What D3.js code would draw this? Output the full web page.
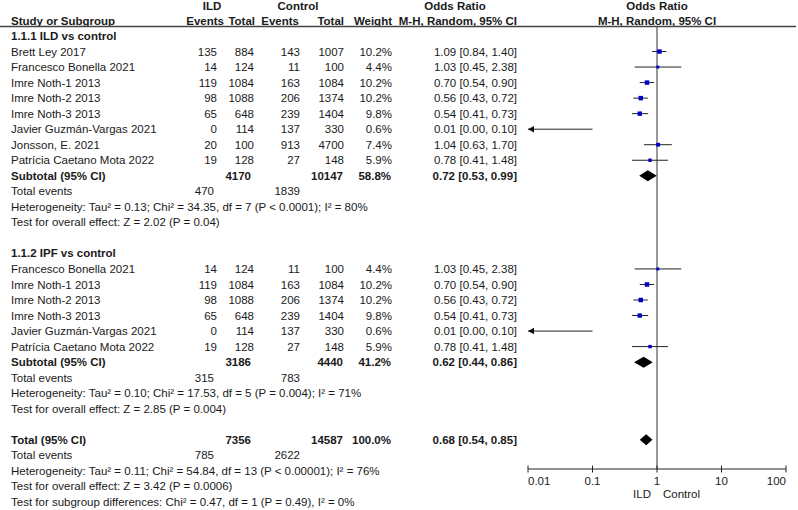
<!DOCTYPE html>
<html>
<head>
<meta charset="utf-8">
<script src="https://cdn.jsdelivr.net/npm/d3@7"></script>
<style>
  html, body { margin: 0; padding: 0; background: #fff; }
  svg text { font-family: 'Liberation Sans', Arial, sans-serif; font-size: 11.5px; fill: #1a1a1a; }
</style>
</head>
<body>
<svg id="chart" width="798" height="510"></svg>
<script>
// ---------------- DATA ----------------
const group1Title = "1.1.1 ILD vs control";
const group1Studies = ["Brett Ley 2017", "Francesco Bonella 2021", "Imre Noth-1 2013", "Imre Noth-2 2013", "Imre Noth-3 2013", "Javier Guzmán-Vargas 2021", "Jonsson, E. 2021", "Patrícia Caetano Mota 2022"];
const group1EventsILD = [135, 14, 119, 98, 65, 0, 20, 19];
const group1TotalILD = [884, 124, 1084, 1088, 648, 114, 100, 128];
const group1EventsCtrl = [143, 11, 163, 206, 239, 137, 913, 27];
const group1TotalCtrl = [1007, 100, 1084, 1374, 1404, 330, 4700, 148];
const group1Weight = [10.2, 4.4, 10.2, 10.2, 9.8, 0.6, 7.4, 5.9];
const group1OR = [1.09, 1.03, 0.70, 0.56, 0.54, 0.01, 1.04, 0.78];
const group1Lo = [0.84, 0.45, 0.54, 0.43, 0.41, 0.00, 0.63, 0.41];
const group1Hi = [1.40, 2.38, 0.90, 0.72, 0.73, 0.10, 1.70, 1.48];
const group1Subtotal = { totalILD: 4170, totalCtrl: 10147, weight: 58.8, or: 0.72, lo: 0.53, hi: 0.99, eventsILD: 470, eventsCtrl: 1839 };
const group1Het = "Heterogeneity: Tau² = 0.13; Chi² = 34.35, df = 7 (P < 0.0001); I² = 80%";
const group1Test = "Test for overall effect: Z = 2.02 (P = 0.04)";

const group2Title = "1.1.2 IPF vs control";
const group2Studies = ["Francesco Bonella 2021", "Imre Noth-1 2013", "Imre Noth-2 2013", "Imre Noth-3 2013", "Javier Guzmán-Vargas 2021", "Patrícia Caetano Mota 2022"];
const group2EventsILD = [14, 119, 98, 65, 0, 19];
const group2TotalILD = [124, 1084, 1088, 648, 114, 128];
const group2EventsCtrl = [11, 163, 206, 239, 137, 27];
const group2TotalCtrl = [100, 1084, 1374, 1404, 330, 148];
const group2Weight = [4.4, 10.2, 10.2, 9.8, 0.6, 5.9];
const group2OR = [1.03, 0.70, 0.56, 0.54, 0.01, 0.78];
const group2Lo = [0.45, 0.54, 0.43, 0.41, 0.00, 0.41];
const group2Hi = [2.38, 0.90, 0.72, 0.73, 0.10, 1.48];
const group2Subtotal = { totalILD: 3186, totalCtrl: 4440, weight: 41.2, or: 0.62, lo: 0.44, hi: 0.86, eventsILD: 315, eventsCtrl: 783 };
const group2Het = "Heterogeneity: Tau² = 0.10; Chi² = 17.53, df = 5 (P = 0.004); I² = 71%";
const group2Test = "Test for overall effect: Z = 2.85 (P = 0.004)";

const overall = { totalILD: 7356, totalCtrl: 14587, weight: 100.0, or: 0.68, lo: 0.54, hi: 0.85, eventsILD: 785, eventsCtrl: 2622 };
const overallHet = "Heterogeneity: Tau² = 0.11; Chi² = 54.84, df = 13 (P < 0.00001); I² = 76%";
const overallTest = "Test for overall effect: Z = 3.42 (P = 0.0006)";
const subgroupTest = "Test for subgroup differences: Chi² = 0.47, df = 1 (P = 0.49), I² = 0%";

const axisTicks = [0.01, 0.1, 1, 10, 100];
const axisTickLabels = ["0.01", "0.1", "1", "10", "100"];
const favoursLeft = "ILD";
const favoursRight = "Control";

// ---------------- LAYOUT ----------------
const svg = d3.select("#chart");
const rowH = 15.53;
const y0 = 36;
const rowY = i => y0 + i * rowH;

const x = d3.scaleLog().domain([0.01, 100]).range([528, 786]);
const axisY = 469;

const col = { name: 11, evI: 217, totI: 254, evC: 300, totC: 344, w: 392, or: 517 };
const f2 = d3.format(".2f");
const f1 = d3.format(".1f");
const blue = "#0000c8";

function text(xp, yp, s, anchor, bold) {
  return svg.append("text")
    .attr("x", xp).attr("y", yp).attr("dy", "0.35em")
    .attr("text-anchor", anchor || "start")
    .attr("font-weight", bold ? "bold" : null)
    .text(s);
}

// Headers
text(212, 6, "ILD", "middle", true);
text(298, 6, "Control", "middle", true);
text(455, 6, "Odds Ratio", "middle", true);
text(x(1), 6, "Odds Ratio", "middle", true);
text(col.name, 21, "Study or Subgroup", "start", true);
text(224, 21, "Events", "end", true);
text(255, 21, "Total", "end", true);
text(299, 21, "Events", "end", true);
text(344, 21, "Total", "end", true);
text(392, 21, "Weight", "end", true);
text(517, 21, "M-H, Random, 95% CI", "end", true);
text(x(1), 21, "M-H, Random, 95% CI", "middle", true);

svg.append("line").attr("x1", 0).attr("x2", 796).attr("y1", 26.5).attr("y2", 26.5)
  .attr("stroke", "#444").attr("stroke-width", 1.5);

// vertical reference line
svg.append("line").attr("x1", x(1)).attr("x2", x(1)).attr("y1", 27).attr("y2", axisY)
  .attr("stroke", "#333").attr("stroke-width", 1);

function orLabel(o, l, h) { return `${f2(o)} [${f2(l)}, ${f2(h)}]`; }

function studyRow(i, name, eI, tI, eC, tC, w, o, l, h) {
  const yy = rowY(i);
  text(col.name, yy, name);
  text(col.evI, yy, eI, "end");
  text(col.totI, yy, tI, "end");
  text(col.evC, yy, eC, "end");
  text(col.totC, yy, tC, "end");
  text(col.w, yy, f1(w) + "%", "end");
  text(col.or, yy, orLabel(o, l, h), "end");
  const clipped = l <= 0.01;
  const xl = clipped ? x(0.01) : x(l);
  svg.append("line").attr("x1", xl).attr("x2", x(Math.min(h, 100))).attr("y1", yy).attr("y2", yy)
    .attr("stroke", "#222").attr("stroke-width", 1);
  if (clipped) {
    const tip = x(0.01);
    svg.append("path")
      .attr("d", `M${tip},${yy} L${tip + 6},${yy - 3.2} L${tip + 6},${yy + 3.2} Z`)
      .attr("fill", "#111");
  } else {
    const s = 1.4 * Math.sqrt(w);
    svg.append("rect").attr("x", x(o) - s / 2).attr("y", yy - s / 2)
      .attr("width", s).attr("height", s).attr("fill", blue);
  }
}

function diamond(yy, o, l, h) {
  svg.append("path")
    .attr("d", `M${x(l)},${yy} L${x(o)},${yy - 5.5} L${x(h)},${yy} L${x(o)},${yy + 5.5} Z`)
    .attr("fill", "#000");
}

function group(start, title, studies, eI, tI, eC, tC, w, o, l, h, sub, het, test) {
  text(col.name, rowY(start), title, "start", true);
  studies.forEach((s, k) => studyRow(start + 1 + k, s, eI[k], tI[k], eC[k], tC[k], w[k], o[k], l[k], h[k]));
  const sr = start + 1 + studies.length;
  const yy = rowY(sr);
  text(col.name, yy, "Subtotal (95% CI)", "start", true);
  text(251, yy, sub.totalILD, "end", true);
  text(343, yy, sub.totalCtrl, "end", true);
  text(391, yy, f1(sub.weight) + "%", "end", true);
  text(col.or, yy, orLabel(sub.or, sub.lo, sub.hi), "end", true);
  diamond(yy, sub.or, sub.lo, sub.hi);
  text(col.name, rowY(sr + 1), "Total events");
  text(214, rowY(sr + 1), sub.eventsILD, "end");
  text(300, rowY(sr + 1), sub.eventsCtrl, "end");
  text(col.name, rowY(sr + 2), het);
  text(col.name, rowY(sr + 3), test);
  return sr + 5;
}

let next = group(0, group1Title, group1Studies, group1EventsILD, group1TotalILD, group1EventsCtrl, group1TotalCtrl,
  group1Weight, group1OR, group1Lo, group1Hi, group1Subtotal, group1Het, group1Test);
next = group(next, group2Title, group2Studies, group2EventsILD, group2TotalILD, group2EventsCtrl, group2TotalCtrl,
  group2Weight, group2OR, group2Lo, group2Hi, group2Subtotal, group2Het, group2Test);

// Overall
const ty = rowY(next);
text(col.name, ty, "Total (95% CI)", "start", true);
text(251, ty, overall.totalILD, "end", true);
text(343, ty, overall.totalCtrl, "end", true);
text(391, ty, f1(overall.weight) + "%", "end", true);
text(col.or, ty, orLabel(overall.or, overall.lo, overall.hi), "end", true);
diamond(ty, overall.or, overall.lo, overall.hi);
text(col.name, rowY(next + 1), "Total events");
text(214, rowY(next + 1), overall.eventsILD, "end");
text(300, rowY(next + 1), overall.eventsCtrl, "end");
text(col.name, rowY(next + 2), overallHet);
text(col.name, rowY(next + 3), overallTest);
text(col.name, rowY(next + 4), subgroupTest);

// Axis
const axisG = svg.append("g").attr("transform", `translate(0,${axisY})`);
axisG.append("line").attr("x1", x(0.01)).attr("x2", x(100)).attr("stroke", "#222").attr("stroke-width", 1);
axisTicks.forEach((t, k) => {
  axisG.append("line").attr("x1", x(t)).attr("x2", x(t)).attr("y1", -3.5).attr("y2", 3.5)
    .attr("stroke", "#222").attr("stroke-width", 1);
  const anchor = k === 0 ? "start" : (k === axisTicks.length - 1 ? "end" : "middle");
  text(x(t), axisY + 12, axisTickLabels[k], anchor);
});
text(x(1) - 6, axisY + 25, favoursLeft, "end");
text(x(1) + 6, axisY + 25, favoursRight, "start");
</script>
</body>
</html>
